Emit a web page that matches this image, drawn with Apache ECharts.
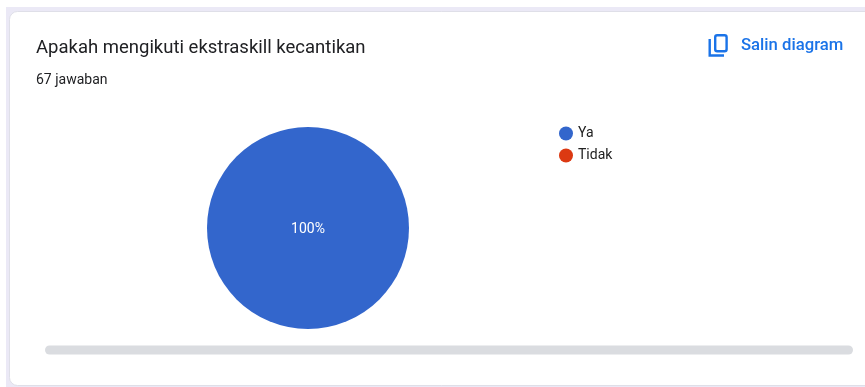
<!DOCTYPE html>
<html>
<head>
<meta charset="utf-8">
<style>
html,body{margin:0;padding:0;background:#fff}
#chart{width:865px;height:387px}
</style>
<script src="https://cdn.jsdelivr.net/npm/echarts@6/dist/echarts.min.js"></script>
</head>
<body>
<div id="chart"></div>
<script>
const heading = 'Apakah mengikuti ekstraskill kecantikan';
const responseNote = '67 jawaban';
const copyLabel = 'Salin diagram';
const categories = ['Ya', 'Tidak'];
const answers = [67, 0];
const sliceColors = ['#3366cc', '#dc3912'];

const chart = echarts.init(document.getElementById('chart'));
chart.setOption({
  animation: false,
  color: sliceColors,
  textStyle: { fontFamily: 'Roboto' },
  legend: {
    orient: 'vertical',
    left: 559,
    top: 126,
    padding: 0,
    itemWidth: 14,
    itemHeight: 14,
    itemGap: 7,
    icon: 'circle',
    selectedMode: false,
    data: categories,
    textStyle: { color: '#212121', fontSize: 14, lineHeight: 14, fontFamily: 'Roboto', padding: [1, 0, 0, 0] }
  },
  graphic: [
    // page tint and the white response card
    { type: 'rect', silent: true, z: -10, shape: { x: 6, y: 7, width: 859, height: 380 }, style: { fill: '#ebe9f6' } },
    { type: 'rect', silent: true, z: -9, shape: { x: 9.5, y: 11.5, width: 870, height: 374, r: 8 }, style: { fill: '#fff', stroke: '#dfdfe8', lineWidth: 1 } },
    { type: 'text', silent: true, x: 36, y: 39, style: { text: heading, fill: '#202124', font: '400 18.5px Roboto' } },
    { type: 'text', silent: true, x: 36, y: 73, style: { text: responseNote, fill: '#202124', font: '400 14px Roboto' } },
    { type: 'text', silent: true, x: 741, y: 37, style: { text: copyLabel, fill: '#1a73e8', font: '500 16.7px Roboto' } },
    // copy icon
    { type: 'polyline', silent: true, shape: { points: [[709.7, 39], [709.7, 55.5], [724, 55.5]] }, style: { fill: 'none', stroke: '#1a73e8', lineWidth: 2.4 } },
    { type: 'rect', silent: true, shape: { x: 715.2, y: 35.2, width: 11.4, height: 16, r: 2 }, style: { fill: 'none', stroke: '#1a73e8', lineWidth: 2.4 } },
    // horizontal scroll track
    { type: 'rect', silent: true, shape: { x: 45, y: 345.5, width: 808, height: 9, r: 4.5 }, style: { fill: '#dadce0' } }
  ],
  series: [{
    type: 'pie',
    center: [308, 228],
    radius: [0, 101],
    silent: true,
    startAngle: 90,
    percentPrecision: 0,
    label: { show: false },
    labelLine: { show: false },
    data: categories.map((name, i) => ({
      name,
      value: answers[i],
      label: answers[i] > 0
        ? { show: true, position: 'center', formatter: '{d}%', fontSize: 14, color: '#fff', fontFamily: 'Roboto', fontWeight: 400, offset: [0, 1] }
        : { show: false }
    }))
  }]
});
</script>
</body>
</html>
